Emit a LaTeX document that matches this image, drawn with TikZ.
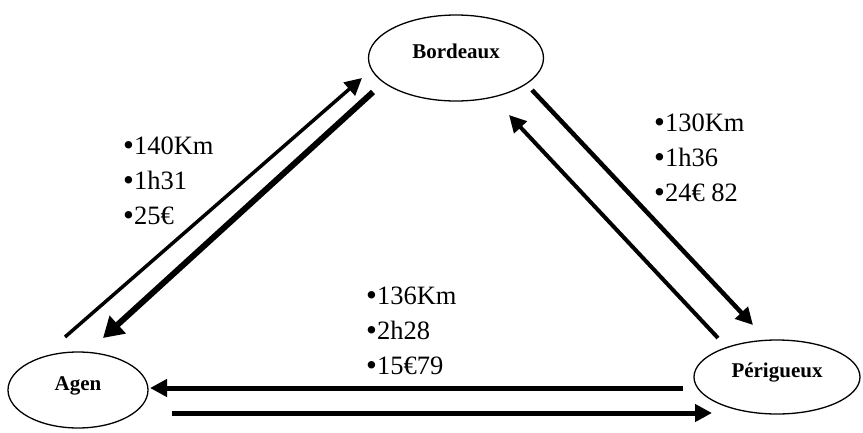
\documentclass[tikz,border=0pt]{standalone}
\usepackage{fontspec}
\setmainfont{Liberation Serif}
\usetikzlibrary{shapes.geometric,arrows.meta}
\newcommand{\bul}{{\fontsize{31}{35}\selectfont\raisebox{-1.5pt}{•}}}

\begin{document}
\begin{tikzpicture}[
        x=1pt, y=-1pt,
        town/.style={ellipse, draw, line width=1.3pt, inner sep=0pt,
          text height=10pt, text depth=10pt,
          font=\fontsize{21}{24}\selectfont\bfseries},
        link/.style={line width=4pt, -{Triangle[length=17pt, width=17pt]}},
        heavy/.style={line width=6pt, -{Triangle[length=20pt, width=23pt]}},
        info/.style={anchor=base west, align=left, inner sep=0pt,
          font=\fontsize{26.5}{35}\selectfont}
      ]
      \useasboundingbox (0,0) rectangle (863,432);
      \node[town, minimum width=175pt, minimum height=86pt] (bordeaux) at (456,58) {Bordeaux};
      \node[town, minimum width=140pt, minimum height=76pt] (agen) at (78,390) {Agen};
      \node[town, minimum width=166pt, minimum height=74pt] (perigueux) at (777,377) {Périgueux};

      % base anchor = last line
      \node[info] (leftinfo) at (123,224) {\bul140Km\\\bul1h31\\\bul25€};
      \node[info] (rightinfo) at (654,201) {\bul130Km\\\bul1h36\\\bul24€ 82};
      \node[info] (bottominfo) at (366,374) {\bul136Km\\\bul2h28\\\bul15€79};

      \draw[link, line width=3.5pt] ([shift={(-13,-53)}]agen.center) -- ([shift={(-94,20)}]bordeaux.center);
      \draw[heavy] ([shift={(-83,34)}]bordeaux.center) -- ([shift={(25,-52)}]agen.center);
      \draw[link, line width=4.5pt] ([shift={(76,32)}]bordeaux.center) -- ([shift={(-24,-52)}]perigueux.center);
      \draw[link] ([shift={(-59,-39)}]perigueux.center) -- ([shift={(53,57)}]bordeaux.center);
      \draw[link, line width=5pt] ([shift={(-94,11)}]perigueux.center) -- ([shift={(72,-2)}]agen.center);
      \draw[link, line width=5pt] ([shift={(94,23)}]agen.center) -- ([shift={(-65,36)}]perigueux.center);
    \end{tikzpicture}
\end{document}
